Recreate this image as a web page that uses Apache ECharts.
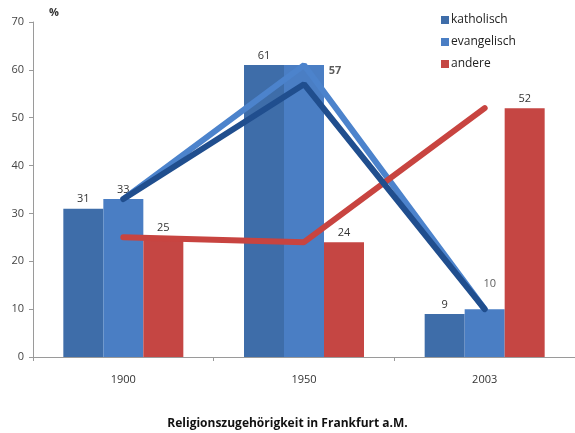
<!DOCTYPE html>
<html>
<head>
<meta charset="utf-8">
<script src="https://cdn.jsdelivr.net/npm/echarts@6/dist/echarts.min.js"></script>
<style>html,body{margin:0;padding:0;background:#fff;}#c{width:575px;height:433px;}</style>
</head>
<body>
<div id="c"></div>
<script>
var categories = ['1900', '1950', '2003'];
var katholisch = [31, 61, 9];
var evangelisch = [33, 61, 10];
var andere = [25, 24, 52];
var lineLight = [33, 61, 10];
var lineDark = [33, 57, 10];
var lineRed = [25, 24, 52];
var yTicks = [0, 10, 20, 30, 40, 50, 60, 70];

var FONT = '"Open Sans", "Liberation Sans", sans-serif';
var labelStyle = {show: true, position: 'top', distance: 4, color: '#333', fontSize: 11, fontFamily: FONT};

var chart = echarts.init(document.getElementById('c'), null, {renderer: 'canvas'});
chart.setOption({
  animation: false,
  backgroundColor: '#fff',
  title: {
    text: 'Religionszugehörigkeit in Frankfurt a.M.',
    left: 'center', top: 413,
    textStyle: {fontSize: 12, fontWeight: 'bold', color: '#111', fontFamily: FONT}
  },
  legend: {
    orient: 'vertical', left: 436, top: 9,
    itemWidth: 8, itemHeight: 8, itemGap: 10,
    icon: 'rect',
    data: ['katholisch', 'evangelisch', 'andere'],
    textStyle: {fontSize: 12, color: '#222', fontFamily: FONT, padding: [0, 0, 0, -3]}
  },
  grid: {left: 33, right: 0, top: 22, bottom: 76, containLabel: false},
  xAxis: {
    type: 'category', data: categories,
    axisLine: {lineStyle: {color: '#9a9a9a'}},
    axisTick: {show: true, length: 4, lineStyle: {color: '#9a9a9a'}},
    axisLabel: {color: '#333', fontSize: 11, fontFamily: FONT, margin: 17}
  },
  yAxis: {
    type: 'value', min: yTicks[0], max: yTicks[yTicks.length - 1], interval: 10,
    name: '%', nameLocation: 'end', nameGap: 4,
    nameTextStyle: {color: '#333', fontSize: 11, fontWeight: 'bold', fontFamily: FONT, align: 'left', padding: [0, 0, 0, 16]},
    axisLine: {show: true, lineStyle: {color: '#9a9a9a'}},
    axisTick: {show: true, length: 4, lineStyle: {color: '#9a9a9a'}},
    splitLine: {show: false},
    axisLabel: {color: '#444', fontSize: 11, fontFamily: FONT, margin: 9}
  },
  series: [
    {name: 'katholisch', type: 'bar', data: katholisch, barWidth: 40, barGap: '0%',
      itemStyle: {color: '#3E6DA9'}, label: labelStyle, z: 2},
    {name: 'evangelisch', type: 'bar', data: evangelisch.map(function (v, i) {
        return {value: v, label: {show: i === 0}};
      }), barWidth: 40, barGap: '0%',
      itemStyle: {color: '#4A7EC4'}, label: labelStyle, z: 2},
    {name: 'andere', type: 'bar', data: andere, barWidth: 40, barGap: '0%',
      itemStyle: {color: '#C54643'}, label: labelStyle, z: 2},
    {name: 'lineLight', type: 'line', data: lineLight, symbol: 'none', z: 5,
      lineStyle: {color: '#4C83CC', width: 6, cap: 'round'}},
    {name: 'lineDark', type: 'line', data: lineDark, z: 6,
      symbol: 'none',
      lineStyle: {color: '#204E8E', width: 6, cap: 'round'},
      label: {show: false}},
    {name: 'lineDarkLabels', type: 'scatter', symbolSize: 0, z: 7,
      data: lineDark.map(function (v, i) {
        return {value: v, label: {show: i > 0, offset: i === 1 ? [31, 0] : [5, -12], fontWeight: i === 1 ? 'bold' : 'normal'}};
      }),
      label: {show: true, position: 'top', distance: 8, color: '#333', fontSize: 11, fontFamily: FONT,
        formatter: function (p) { return p.value; }}},
    {name: 'lineRed', type: 'line', data: lineRed, symbol: 'none', z: 5,
      lineStyle: {color: '#C84440', width: 6, cap: 'round'}}
  ]
});
</script>
</body>
</html>
